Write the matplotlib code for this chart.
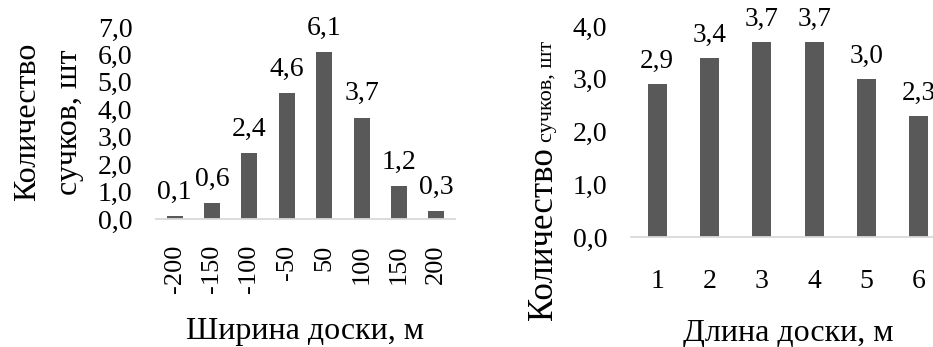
import matplotlib
matplotlib.use("Agg")
import matplotlib.pyplot as plt
from matplotlib.ticker import FuncFormatter, MultipleLocator

# Data
width_cats = ["-200", "-150", "-100", "-50", "50", "100", "150", "200"]
width_knots = [0.1, 0.6, 2.4, 4.6, 6.1, 3.7, 1.2, 0.3]
length_cats = ["1", "2", "3", "4", "5", "6"]
length_knots = [2.9, 3.4, 3.7, 3.7, 3.0, 2.3]

BAR = "#595959"
AXIS = "#d9d9d9"
plt.rcParams["font.family"] = ["Liberation Serif", "DejaVu Serif"]

W, H = 933, 347
fig = plt.figure(figsize=(W / 100, H / 100), dpi=100)


def px_axes(left, right, top, bottom):
    return fig.add_axes([left / W, 1 - bottom / H, (right - left) / W, (bottom - top) / H])


comma = FuncFormatter(lambda v, _: f"{v:.1f}".replace(".", ","))


def style(ax, ymax, fs, xfs, xpad, rot):
    ax.set_ylim(0, ymax)
    ax.yaxis.set_major_locator(MultipleLocator(1))
    ax.yaxis.set_major_formatter(comma)
    for s in ("top", "right", "left"):
        ax.spines[s].set_visible(False)
    ax.spines["bottom"].set_color(AXIS)
    ax.spines["bottom"].set_linewidth(1.3)
    ax.tick_params(axis="y", length=0, pad=17, labelsize=fs)
    ax.tick_params(axis="x", length=0, pad=xpad, labelsize=xfs, labelrotation=rot)
    ax.patch.set_alpha(0)


def labels(ax, xs, vals, fs, off):
    for x, v in zip(xs, vals):
        ax.annotate(f"{v:.1f}".replace(".", ","), (x, v), xytext=(0, off),
                    textcoords="offset points", ha="center", va="bottom",
                    fontsize=fs, annotation_clip=False)


# Left panel: by board width
ax1 = px_axes(156, 455, 27, 219)
x1 = range(len(width_cats))
ax1.bar(x1, width_knots, width=0.43, color=BAR, zorder=2)
ax1.set_xlim(-0.5, len(width_cats) - 0.5)
ax1.set_xticks(list(x1))
ax1.set_xticklabels(width_cats)
style(ax1, 7, 20, 19, 18.5, 90)
labels(ax1, x1, width_knots, 20, 8)

# Right panel: by board length
ax2 = px_axes(631, 945, 26, 237)
x2 = range(len(length_cats))
ax2.bar(x2, length_knots, width=0.36, color=BAR, zorder=2)
ax2.set_xlim(-0.5, len(length_cats) - 0.5)
ax2.set_xticks(list(x2))
ax2.set_xticklabels(length_cats)
style(ax2, 4, 20, 20, 23, 0)
labels(ax2, x2, length_knots, 19.5, 7)

# Axis titles
fig.text(305 / W, 1 - 332 / H, "Ширина доски, м", ha="center", va="center", fontsize=23)
fig.text(788 / W, 1 - 334 / H, "Длина доски, м", ha="center", va="center", fontsize=23)

fig.text(35 / W, 1 - 122 / H, "Количество", rotation=90, rotation_mode="anchor",
         ha="center", va="baseline", fontsize=23)
fig.text(77 / W, 1 - 122 / H, "сучков, шт", rotation=90, rotation_mode="anchor",
         ha="center", va="baseline", fontsize=23)

t1 = fig.text(552 / W, 1 - 320 / H, "Количество", rotation=90, rotation_mode="anchor",
              ha="left", va="baseline", fontsize=25)
fig.canvas.draw()
bb = t1.get_window_extent(fig.canvas.get_renderer())
fig.text(552 / W, (bb.y1 + 5) / H, "сучков, шт", rotation=90, rotation_mode="anchor",
         ha="left", va="baseline", fontsize=16)

fig.savefig("out.png", dpi=100)
